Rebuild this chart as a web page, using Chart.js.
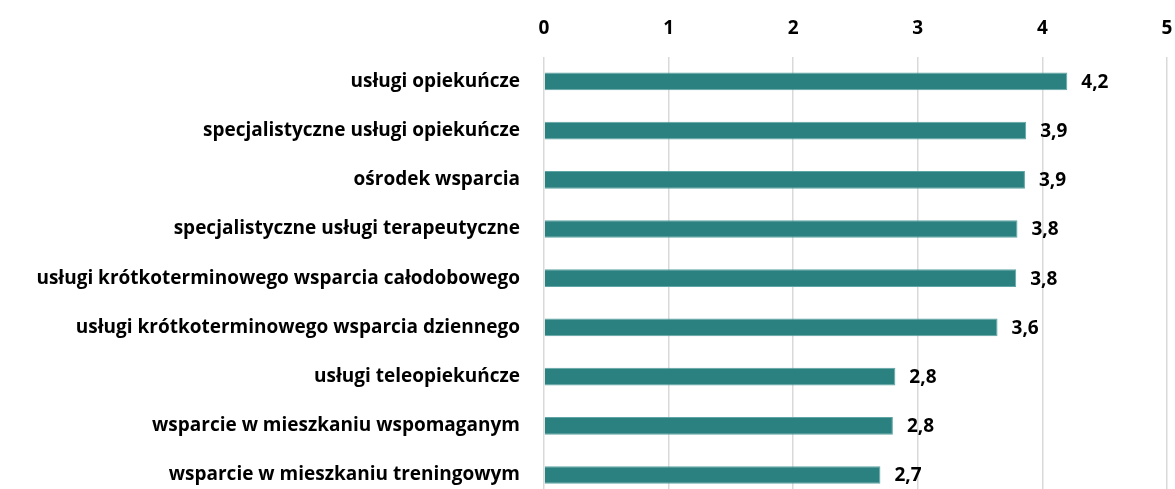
<!DOCTYPE html>
<html>
<head>
<meta charset="utf-8">
<script src="https://cdn.jsdelivr.net/npm/chart.js@4.4.0/dist/chart.umd.min.js"></script>
<style>
  html, body { margin: 0; padding: 0; background: #fff; overflow: hidden; }
  #wrap { width: 1175px; height: 527px; position: relative; }
</style>
</head>
<body>
<div id="wrap"><canvas id="servicesChart"></canvas></div>
<script>
// Categories and values
const categories = [
  'usługi opiekuńcze',
  'specjalistyczne usługi opiekuńcze',
  'ośrodek wsparcia',
  'specjalistyczne usługi terapeutyczne',
  'usługi krótkoterminowego wsparcia całodobowego',
  'usługi krótkoterminowego wsparcia dziennego',
  'usługi teleopiekuńcze',
  'wsparcie w mieszkaniu wspomaganym',
  'wsparcie w mieszkaniu treningowym'
];
const ratings = [4.20, 3.87, 3.86, 3.80, 3.79, 3.64, 2.82, 2.80, 2.70];
const xTicks = [0, 1, 2, 3, 4, 5];

const fontFamily = '"Open Sans", "Noto Sans", sans-serif';

// value labels at the end of each bar
const barLabels = {
  id: 'barLabels',
  afterDatasetsDraw(chart) {
    const ctx = chart.ctx;
    const meta = chart.getDatasetMeta(0);
    ctx.save();
    ctx.font = 'bold 19px ' + fontFamily;
    ctx.fillStyle = '#000';
    ctx.textAlign = 'left';
    ctx.textBaseline = 'middle';
    meta.data.forEach((bar, i) => {
      const txt = ratings[i].toFixed(1).replace('.', ',');
      ctx.fillText(txt, bar.x + 14, bar.y + 1);
    });
    ctx.restore();
  }
};

const ctx1 = document.getElementById('servicesChart').getContext('2d');
const servicesChart = new Chart(ctx1, {
  type: 'bar',
  data: {
    labels: categories,
    datasets: [
      {
        data: ratings,
        backgroundColor: '#2B8080',
        borderColor: '#5FA5A5',
        borderWidth: 1,
        barPercentage: 0.72,
        categoryPercentage: 0.5
      }
    ]
  },
  options: {
    indexAxis: 'y',
    responsive: true,
    maintainAspectRatio: false,
    animation: false,
    layout: {
      padding: { top: 0, right: 8, bottom: 2, left: 0 }
    },
    plugins: {
      legend: { display: false },
      tooltip: { enabled: false }
    },
    scales: {
      x: {
        position: 'top',
        min: 0,
        max: 5,
        afterBuildTicks(scale) {
          scale.ticks = xTicks.map(v => ({ value: v }));
        },
        afterFit(scale) {
          // let the last tick label run off the edge, like the original
          scale.paddingRight = 0;
          scale.paddingLeft = 0;
        },
        grid: {
          color: '#D9D9D9',
          lineWidth: 1.5,
          drawTicks: false
        },
        border: { display: false },
        ticks: {
          color: '#000',
          padding: 17,
          font: { family: fontFamily, size: 19, weight: 'bold' }
        }
      },
      y: {
        grid: { display: false },
        border: { display: false },
        afterFit(scale) {
          scale.width = 544;
        },
        ticks: {
          color: '#000',
          padding: 16,
          font: { family: fontFamily, size: 19, weight: 'bold' }
        }
      }
    }
  },
  plugins: [barLabels]
});
</script>
</body>
</html>
